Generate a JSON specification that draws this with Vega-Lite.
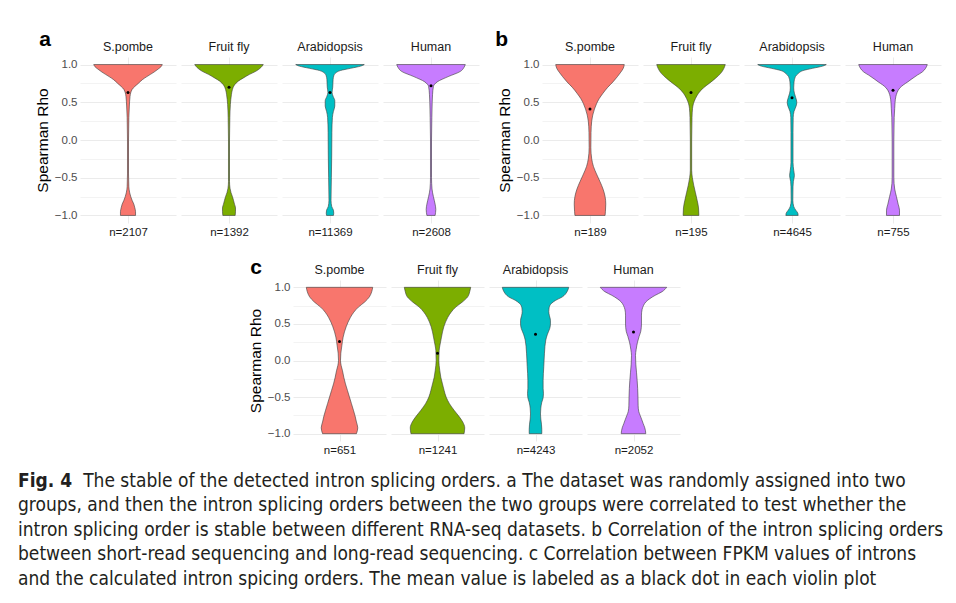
{
"$schema": "https://vega.github.io/schema/vega-lite/v6.json",
"background": "white",
"padding": {"left": 18, "top": 28, "right": 8, "bottom": 8},
"title": {"text": "Fig. 4", "subtitle": ["\u200b\u00a0\u00a0\u00a0\u00a0\u00a0\u00a0\u00a0\u00a0\u00a0\u00a0\u00a0\u00a0The stable of the detected intron splicing orders. a The dataset was randomly assigned into two", "groups, and then the intron splicing orders between the two groups were correlated to test whether the", "intron splicing order is stable between different RNA-seq datasets. b Correlation of the intron splicing orders", "between short-read sequencing and long-read sequencing. c Correlation between FPKM values of introns", "and the calculated intron spicing orders. The mean value is labeled as a black dot in each violin plot"], "orient": "bottom", "anchor": "start", "font": "Liberation Sans Narrow, DejaVu Sans Condensed, sans-serif", "fontSize": 19, "fontWeight": "bold", "color": "#231f20", "subtitleFont": "Liberation Sans Narrow, DejaVu Sans Condensed, sans-serif", "subtitleFontSize": 19, "subtitleFontWeight": "normal", "subtitleColor": "#231f20", "subtitleLineHeight": 24.5, "subtitlePadding": -19, "offset": 16},
"datasets": {
"violin": [
{"p":"a","s":"S.pombe","r":-1,"w":0.22},{"p":"a","s":"S.pombe","r":-0.95,"w":0.22},{"p":"a","s":"S.pombe","r":-0.9,"w":0.2},{"p":"a","s":"S.pombe","r":-0.85,"w":0.17},{"p":"a","s":"S.pombe","r":-0.8,"w":0.12},{"p":"a","s":"S.pombe","r":-0.75,"w":0.08},{"p":"a","s":"S.pombe","r":-0.7,"w":0.05},{"p":"a","s":"S.pombe","r":-0.62,"w":0.025},{"p":"a","s":"S.pombe","r":-0.45,"w":0.015},{"p":"a","s":"S.pombe","r":0,"w":0.015},{"p":"a","s":"S.pombe","r":0.3,"w":0.025},{"p":"a","s":"S.pombe","r":0.45,"w":0.04},{"p":"a","s":"S.pombe","r":0.58,"w":0.06},{"p":"a","s":"S.pombe","r":0.67,"w":0.12},{"p":"a","s":"S.pombe","r":0.75,"w":0.3},{"p":"a","s":"S.pombe","r":0.8,"w":0.42},{"p":"a","s":"S.pombe","r":0.84,"w":0.55},{"p":"a","s":"S.pombe","r":0.9,"w":0.76},{"p":"a","s":"S.pombe","r":0.94,"w":0.88},{"p":"a","s":"S.pombe","r":0.97,"w":0.96},{"p":"a","s":"S.pombe","r":1,"w":1},
{"p":"a","s":"Fruit fly","r":-1,"w":0.18},{"p":"a","s":"Fruit fly","r":-0.95,"w":0.19},{"p":"a","s":"Fruit fly","r":-0.9,"w":0.19},{"p":"a","s":"Fruit fly","r":-0.85,"w":0.16},{"p":"a","s":"Fruit fly","r":-0.75,"w":0.1},{"p":"a","s":"Fruit fly","r":-0.7,"w":0.06},{"p":"a","s":"Fruit fly","r":-0.64,"w":0.03},{"p":"a","s":"Fruit fly","r":-0.55,"w":0.015},{"p":"a","s":"Fruit fly","r":0,"w":0.015},{"p":"a","s":"Fruit fly","r":0.3,"w":0.025},{"p":"a","s":"Fruit fly","r":0.47,"w":0.04},{"p":"a","s":"Fruit fly","r":0.6,"w":0.07},{"p":"a","s":"Fruit fly","r":0.67,"w":0.1},{"p":"a","s":"Fruit fly","r":0.73,"w":0.16},{"p":"a","s":"Fruit fly","r":0.78,"w":0.27},{"p":"a","s":"Fruit fly","r":0.82,"w":0.41},{"p":"a","s":"Fruit fly","r":0.87,"w":0.6},{"p":"a","s":"Fruit fly","r":0.91,"w":0.78},{"p":"a","s":"Fruit fly","r":0.96,"w":0.93},{"p":"a","s":"Fruit fly","r":1,"w":1},
{"p":"a","s":"Arabidopsis","r":-1,"w":0.1},{"p":"a","s":"Arabidopsis","r":-0.97,"w":0.11},{"p":"a","s":"Arabidopsis","r":-0.93,"w":0.1},{"p":"a","s":"Arabidopsis","r":-0.88,"w":0.05},{"p":"a","s":"Arabidopsis","r":-0.8,"w":0.03},{"p":"a","s":"Arabidopsis","r":-0.5,"w":0.04},{"p":"a","s":"Arabidopsis","r":-0.2,"w":0.05},{"p":"a","s":"Arabidopsis","r":0.1,"w":0.055},{"p":"a","s":"Arabidopsis","r":0.3,"w":0.07},{"p":"a","s":"Arabidopsis","r":0.38,"w":0.1},{"p":"a","s":"Arabidopsis","r":0.45,"w":0.14},{"p":"a","s":"Arabidopsis","r":0.52,"w":0.14},{"p":"a","s":"Arabidopsis","r":0.58,"w":0.09},{"p":"a","s":"Arabidopsis","r":0.63,"w":0.06},{"p":"a","s":"Arabidopsis","r":0.7,"w":0.08},{"p":"a","s":"Arabidopsis","r":0.8,"w":0.09},{"p":"a","s":"Arabidopsis","r":0.85,"w":0.11},{"p":"a","s":"Arabidopsis","r":0.89,"w":0.17},{"p":"a","s":"Arabidopsis","r":0.92,"w":0.3},{"p":"a","s":"Arabidopsis","r":0.95,"w":0.6},{"p":"a","s":"Arabidopsis","r":0.98,"w":0.9},{"p":"a","s":"Arabidopsis","r":1,"w":1},
{"p":"a","s":"Human","r":-1,"w":0.12},{"p":"a","s":"Human","r":-0.92,"w":0.14},{"p":"a","s":"Human","r":-0.85,"w":0.12},{"p":"a","s":"Human","r":-0.75,"w":0.07},{"p":"a","s":"Human","r":-0.65,"w":0.03},{"p":"a","s":"Human","r":-0.5,"w":0.015},{"p":"a","s":"Human","r":0,"w":0.015},{"p":"a","s":"Human","r":0.3,"w":0.025},{"p":"a","s":"Human","r":0.5,"w":0.035},{"p":"a","s":"Human","r":0.6,"w":0.045},{"p":"a","s":"Human","r":0.71,"w":0.07},{"p":"a","s":"Human","r":0.77,"w":0.18},{"p":"a","s":"Human","r":0.84,"w":0.5},{"p":"a","s":"Human","r":0.91,"w":0.86},{"p":"a","s":"Human","r":0.96,"w":0.96},{"p":"a","s":"Human","r":1,"w":1},
{"p":"b","s":"S.pombe","r":-1,"w":0.44},{"p":"b","s":"S.pombe","r":-0.95,"w":0.45},{"p":"b","s":"S.pombe","r":-0.85,"w":0.46},{"p":"b","s":"S.pombe","r":-0.75,"w":0.44},{"p":"b","s":"S.pombe","r":-0.65,"w":0.38},{"p":"b","s":"S.pombe","r":-0.55,"w":0.29},{"p":"b","s":"S.pombe","r":-0.45,"w":0.19},{"p":"b","s":"S.pombe","r":-0.35,"w":0.1},{"p":"b","s":"S.pombe","r":-0.25,"w":0.05},{"p":"b","s":"S.pombe","r":-0.1,"w":0.025},{"p":"b","s":"S.pombe","r":0.1,"w":0.03},{"p":"b","s":"S.pombe","r":0.25,"w":0.05},{"p":"b","s":"S.pombe","r":0.33,"w":0.08},{"p":"b","s":"S.pombe","r":0.41,"w":0.13},{"p":"b","s":"S.pombe","r":0.48,"w":0.19},{"p":"b","s":"S.pombe","r":0.55,"w":0.27},{"p":"b","s":"S.pombe","r":0.62,"w":0.38},{"p":"b","s":"S.pombe","r":0.7,"w":0.52},{"p":"b","s":"S.pombe","r":0.77,"w":0.67},{"p":"b","s":"S.pombe","r":0.84,"w":0.8},{"p":"b","s":"S.pombe","r":0.9,"w":0.9},{"p":"b","s":"S.pombe","r":0.95,"w":0.97},{"p":"b","s":"S.pombe","r":1,"w":1},
{"p":"b","s":"Fruit fly","r":-1,"w":0.23},{"p":"b","s":"Fruit fly","r":-0.9,"w":0.22},{"p":"b","s":"Fruit fly","r":-0.8,"w":0.18},{"p":"b","s":"Fruit fly","r":-0.7,"w":0.13},{"p":"b","s":"Fruit fly","r":-0.6,"w":0.08},{"p":"b","s":"Fruit fly","r":-0.5,"w":0.04},{"p":"b","s":"Fruit fly","r":-0.4,"w":0.02},{"p":"b","s":"Fruit fly","r":0,"w":0.02},{"p":"b","s":"Fruit fly","r":0.3,"w":0.03},{"p":"b","s":"Fruit fly","r":0.42,"w":0.045},{"p":"b","s":"Fruit fly","r":0.48,"w":0.07},{"p":"b","s":"Fruit fly","r":0.55,"w":0.13},{"p":"b","s":"Fruit fly","r":0.62,"w":0.22},{"p":"b","s":"Fruit fly","r":0.69,"w":0.36},{"p":"b","s":"Fruit fly","r":0.75,"w":0.53},{"p":"b","s":"Fruit fly","r":0.82,"w":0.72},{"p":"b","s":"Fruit fly","r":0.88,"w":0.86},{"p":"b","s":"Fruit fly","r":0.95,"w":0.96},{"p":"b","s":"Fruit fly","r":1,"w":1},
{"p":"b","s":"Arabidopsis","r":-1,"w":0.18},{"p":"b","s":"Arabidopsis","r":-0.97,"w":0.17},{"p":"b","s":"Arabidopsis","r":-0.93,"w":0.11},{"p":"b","s":"Arabidopsis","r":-0.88,"w":0.05},{"p":"b","s":"Arabidopsis","r":-0.8,"w":0.025},{"p":"b","s":"Arabidopsis","r":-0.62,"w":0.03},{"p":"b","s":"Arabidopsis","r":-0.55,"w":0.04},{"p":"b","s":"Arabidopsis","r":-0.47,"w":0.07},{"p":"b","s":"Arabidopsis","r":-0.4,"w":0.05},{"p":"b","s":"Arabidopsis","r":-0.3,"w":0.03},{"p":"b","s":"Arabidopsis","r":0.1,"w":0.03},{"p":"b","s":"Arabidopsis","r":0.3,"w":0.035},{"p":"b","s":"Arabidopsis","r":0.38,"w":0.06},{"p":"b","s":"Arabidopsis","r":0.45,"w":0.12},{"p":"b","s":"Arabidopsis","r":0.5,"w":0.14},{"p":"b","s":"Arabidopsis","r":0.56,"w":0.11},{"p":"b","s":"Arabidopsis","r":0.62,"w":0.07},{"p":"b","s":"Arabidopsis","r":0.69,"w":0.05},{"p":"b","s":"Arabidopsis","r":0.77,"w":0.06},{"p":"b","s":"Arabidopsis","r":0.84,"w":0.1},{"p":"b","s":"Arabidopsis","r":0.88,"w":0.18},{"p":"b","s":"Arabidopsis","r":0.92,"w":0.32},{"p":"b","s":"Arabidopsis","r":0.95,"w":0.6},{"p":"b","s":"Arabidopsis","r":0.98,"w":0.9},{"p":"b","s":"Arabidopsis","r":1,"w":1},
{"p":"b","s":"Human","r":-1,"w":0.19},{"p":"b","s":"Human","r":-0.93,"w":0.19},{"p":"b","s":"Human","r":-0.85,"w":0.15},{"p":"b","s":"Human","r":-0.75,"w":0.1},{"p":"b","s":"Human","r":-0.65,"w":0.05},{"p":"b","s":"Human","r":-0.5,"w":0.025},{"p":"b","s":"Human","r":0,"w":0.025},{"p":"b","s":"Human","r":0.3,"w":0.035},{"p":"b","s":"Human","r":0.42,"w":0.05},{"p":"b","s":"Human","r":0.5,"w":0.06},{"p":"b","s":"Human","r":0.58,"w":0.085},{"p":"b","s":"Human","r":0.63,"w":0.12},{"p":"b","s":"Human","r":0.69,"w":0.2},{"p":"b","s":"Human","r":0.73,"w":0.3},{"p":"b","s":"Human","r":0.77,"w":0.43},{"p":"b","s":"Human","r":0.81,"w":0.55},{"p":"b","s":"Human","r":0.86,"w":0.71},{"p":"b","s":"Human","r":0.9,"w":0.85},{"p":"b","s":"Human","r":0.95,"w":0.95},{"p":"b","s":"Human","r":1,"w":1},
{"p":"c","s":"S.pombe","r":-1,"w":0.51},{"p":"c","s":"S.pombe","r":-0.92,"w":0.55},{"p":"c","s":"S.pombe","r":-0.84,"w":0.51},{"p":"c","s":"S.pombe","r":-0.76,"w":0.47},{"p":"c","s":"S.pombe","r":-0.68,"w":0.42},{"p":"c","s":"S.pombe","r":-0.59,"w":0.36},{"p":"c","s":"S.pombe","r":-0.5,"w":0.3},{"p":"c","s":"S.pombe","r":-0.41,"w":0.24},{"p":"c","s":"S.pombe","r":-0.32,"w":0.18},{"p":"c","s":"S.pombe","r":-0.23,"w":0.13},{"p":"c","s":"S.pombe","r":-0.14,"w":0.09},{"p":"c","s":"S.pombe","r":-0.07,"w":0.05},{"p":"c","s":"S.pombe","r":0,"w":0.03},{"p":"c","s":"S.pombe","r":0.1,"w":0.04},{"p":"c","s":"S.pombe","r":0.2,"w":0.07},{"p":"c","s":"S.pombe","r":0.32,"w":0.11},{"p":"c","s":"S.pombe","r":0.46,"w":0.2},{"p":"c","s":"S.pombe","r":0.59,"w":0.33},{"p":"c","s":"S.pombe","r":0.66,"w":0.43},{"p":"c","s":"S.pombe","r":0.73,"w":0.57},{"p":"c","s":"S.pombe","r":0.8,"w":0.76},{"p":"c","s":"S.pombe","r":0.87,"w":0.9},{"p":"c","s":"S.pombe","r":0.94,"w":0.97},{"p":"c","s":"S.pombe","r":1,"w":1},
{"p":"c","s":"Fruit fly","r":-1,"w":0.8},{"p":"c","s":"Fruit fly","r":-0.92,"w":0.82},{"p":"c","s":"Fruit fly","r":-0.84,"w":0.76},{"p":"c","s":"Fruit fly","r":-0.76,"w":0.64},{"p":"c","s":"Fruit fly","r":-0.68,"w":0.5},{"p":"c","s":"Fruit fly","r":-0.59,"w":0.36},{"p":"c","s":"Fruit fly","r":-0.5,"w":0.26},{"p":"c","s":"Fruit fly","r":-0.41,"w":0.2},{"p":"c","s":"Fruit fly","r":-0.32,"w":0.15},{"p":"c","s":"Fruit fly","r":-0.23,"w":0.1},{"p":"c","s":"Fruit fly","r":-0.14,"w":0.07},{"p":"c","s":"Fruit fly","r":0,"w":0.04},{"p":"c","s":"Fruit fly","r":0.14,"w":0.05},{"p":"c","s":"Fruit fly","r":0.2,"w":0.07},{"p":"c","s":"Fruit fly","r":0.32,"w":0.12},{"p":"c","s":"Fruit fly","r":0.46,"w":0.19},{"p":"c","s":"Fruit fly","r":0.59,"w":0.31},{"p":"c","s":"Fruit fly","r":0.66,"w":0.41},{"p":"c","s":"Fruit fly","r":0.73,"w":0.55},{"p":"c","s":"Fruit fly","r":0.8,"w":0.75},{"p":"c","s":"Fruit fly","r":0.87,"w":0.91},{"p":"c","s":"Fruit fly","r":0.94,"w":0.97},{"p":"c","s":"Fruit fly","r":1,"w":1},
{"p":"c","s":"Arabidopsis","r":-1,"w":0.19},{"p":"c","s":"Arabidopsis","r":-0.94,"w":0.19},{"p":"c","s":"Arabidopsis","r":-0.87,"w":0.18},{"p":"c","s":"Arabidopsis","r":-0.8,"w":0.16},{"p":"c","s":"Arabidopsis","r":-0.73,"w":0.15},{"p":"c","s":"Arabidopsis","r":-0.65,"w":0.16},{"p":"c","s":"Arabidopsis","r":-0.57,"w":0.19},{"p":"c","s":"Arabidopsis","r":-0.51,"w":0.23},{"p":"c","s":"Arabidopsis","r":-0.45,"w":0.24},{"p":"c","s":"Arabidopsis","r":-0.38,"w":0.23},{"p":"c","s":"Arabidopsis","r":-0.27,"w":0.23},{"p":"c","s":"Arabidopsis","r":-0.08,"w":0.25},{"p":"c","s":"Arabidopsis","r":0.1,"w":0.27},{"p":"c","s":"Arabidopsis","r":0.28,"w":0.31},{"p":"c","s":"Arabidopsis","r":0.36,"w":0.36},{"p":"c","s":"Arabidopsis","r":0.44,"w":0.43},{"p":"c","s":"Arabidopsis","r":0.5,"w":0.45},{"p":"c","s":"Arabidopsis","r":0.55,"w":0.45},{"p":"c","s":"Arabidopsis","r":0.61,"w":0.42},{"p":"c","s":"Arabidopsis","r":0.67,"w":0.4},{"p":"c","s":"Arabidopsis","r":0.72,"w":0.41},{"p":"c","s":"Arabidopsis","r":0.78,"w":0.48},{"p":"c","s":"Arabidopsis","r":0.82,"w":0.6},{"p":"c","s":"Arabidopsis","r":0.87,"w":0.81},{"p":"c","s":"Arabidopsis","r":0.94,"w":0.95},{"p":"c","s":"Arabidopsis","r":1,"w":1},
{"p":"c","s":"Human","r":-1,"w":0.37},{"p":"c","s":"Human","r":-0.96,"w":0.36},{"p":"c","s":"Human","r":-0.92,"w":0.34},{"p":"c","s":"Human","r":-0.86,"w":0.29},{"p":"c","s":"Human","r":-0.81,"w":0.25},{"p":"c","s":"Human","r":-0.75,"w":0.2},{"p":"c","s":"Human","r":-0.7,"w":0.16},{"p":"c","s":"Human","r":-0.62,"w":0.14},{"p":"c","s":"Human","r":-0.5,"w":0.135},{"p":"c","s":"Human","r":-0.38,"w":0.125},{"p":"c","s":"Human","r":-0.27,"w":0.11},{"p":"c","s":"Human","r":-0.16,"w":0.09},{"p":"c","s":"Human","r":-0.05,"w":0.07},{"p":"c","s":"Human","r":0.07,"w":0.06},{"p":"c","s":"Human","r":0.15,"w":0.08},{"p":"c","s":"Human","r":0.25,"w":0.12},{"p":"c","s":"Human","r":0.33,"w":0.17},{"p":"c","s":"Human","r":0.4,"w":0.22},{"p":"c","s":"Human","r":0.5,"w":0.24},{"p":"c","s":"Human","r":0.62,"w":0.24},{"p":"c","s":"Human","r":0.7,"w":0.26},{"p":"c","s":"Human","r":0.75,"w":0.3},{"p":"c","s":"Human","r":0.8,"w":0.37},{"p":"c","s":"Human","r":0.845,"w":0.49},{"p":"c","s":"Human","r":0.89,"w":0.65},{"p":"c","s":"Human","r":0.94,"w":0.86},{"p":"c","s":"Human","r":1,"w":1}
],
"means": [
{"p":"a","s":"S.pombe","r":0.63},{"p":"a","s":"Fruit fly","r":0.70},{"p":"a","s":"Arabidopsis","r":0.63},{"p":"a","s":"Human","r":0.72},
{"p":"b","s":"S.pombe","r":0.41},{"p":"b","s":"Fruit fly","r":0.63},{"p":"b","s":"Arabidopsis","r":0.56},{"p":"b","s":"Human","r":0.66},
{"p":"c","s":"S.pombe","r":0.26},{"p":"c","s":"Fruit fly","r":0.10},{"p":"c","s":"Arabidopsis","r":0.36},{"p":"c","s":"Human","r":0.39}
]
},
"spacing": 18,
"vconcat": [
{"hconcat": [
{"width": 1, "height": 10, "data": {"values": []}, "mark": "point"},
{"title": {"text": "a", "anchor": "start", "fontSize": 21, "fontWeight": "bold", "color": "#000000", "offset": -9, "dx": 4},
 "spacing": 5,
 "hconcat": [
{"title": "S.pombe", "width": 96, "height": 166,
 "encoding": {"y": {"field": "r", "type": "quantitative", "scale": {"domain": [-1.1, 1.1], "nice": false}, "axis": {"values": [-1,-0.75,-0.5,-0.25,0,0.25,0.5,0.75,1], "labelExpr": "datum.value % 0.5 === 0 ? format(datum.value, '.1f') : ''", "title": "Spearman Rho", "gridWidth": {"condition": {"test": "datum.value % 0.5 === 0", "value": 1}, "value": 0.6}}}},
 "layer": [
  {"data": {"name": "violin"}, "transform": [{"filter": "datum.p=='a' && datum.s=='S.pombe'"}], "mark": {"type": "area", "orient": "horizontal"},
   "encoding": {"x": {"field": "w", "type": "quantitative", "stack": "center", "impute": null, "scale": {"domain": [-0.1667, 1.1667]}, "axis": {"values": [0.5], "title": "n=2107"}},
                "color": {"field": "s", "type": "nominal", "scale": {"domain": ["S.pombe","Fruit fly","Arabidopsis","Human"], "range": ["#F8766D","#7CAE00","#00BFC4","#C77CFF"]}, "legend": null}}},
  {"data": {"name": "means"}, "transform": [{"filter": "datum.p=='a' && datum.s=='S.pombe'"}], "mark": "point", "encoding": {"x": {"datum": 0.5}}}
 ]},
{"title": "Fruit fly", "width": 96, "height": 166,
 "encoding": {"y": {"field": "r", "type": "quantitative", "scale": {"domain": [-1.1, 1.1], "nice": false}, "axis": {"values": [-1,-0.75,-0.5,-0.25,0,0.25,0.5,0.75,1], "labels": false, "title": null, "gridWidth": {"condition": {"test": "datum.value % 0.5 === 0", "value": 1}, "value": 0.6}}}},
 "layer": [
  {"data": {"name": "violin"}, "transform": [{"filter": "datum.p=='a' && datum.s=='Fruit fly'"}], "mark": {"type": "area", "orient": "horizontal"},
   "encoding": {"x": {"field": "w", "type": "quantitative", "stack": "center", "impute": null, "scale": {"domain": [-0.1667, 1.1667]}, "axis": {"values": [0.5], "title": "n=1392"}},
                "color": {"field": "s", "type": "nominal", "scale": {"domain": ["S.pombe","Fruit fly","Arabidopsis","Human"], "range": ["#F8766D","#7CAE00","#00BFC4","#C77CFF"]}, "legend": null}}},
  {"data": {"name": "means"}, "transform": [{"filter": "datum.p=='a' && datum.s=='Fruit fly'"}], "mark": "point", "encoding": {"x": {"datum": 0.5}}}
 ]},
{"title": "Arabidopsis", "width": 96, "height": 166,
 "encoding": {"y": {"field": "r", "type": "quantitative", "scale": {"domain": [-1.1, 1.1], "nice": false}, "axis": {"values": [-1,-0.75,-0.5,-0.25,0,0.25,0.5,0.75,1], "labels": false, "title": null, "gridWidth": {"condition": {"test": "datum.value % 0.5 === 0", "value": 1}, "value": 0.6}}}},
 "layer": [
  {"data": {"name": "violin"}, "transform": [{"filter": "datum.p=='a' && datum.s=='Arabidopsis'"}], "mark": {"type": "area", "orient": "horizontal"},
   "encoding": {"x": {"field": "w", "type": "quantitative", "stack": "center", "impute": null, "scale": {"domain": [-0.1667, 1.1667]}, "axis": {"values": [0.5], "title": "n=11369"}},
                "color": {"field": "s", "type": "nominal", "scale": {"domain": ["S.pombe","Fruit fly","Arabidopsis","Human"], "range": ["#F8766D","#7CAE00","#00BFC4","#C77CFF"]}, "legend": null}}},
  {"data": {"name": "means"}, "transform": [{"filter": "datum.p=='a' && datum.s=='Arabidopsis'"}], "mark": "point", "encoding": {"x": {"datum": 0.5}}}
 ]},
{"title": "Human", "width": 96, "height": 166,
 "encoding": {"y": {"field": "r", "type": "quantitative", "scale": {"domain": [-1.1, 1.1], "nice": false}, "axis": {"values": [-1,-0.75,-0.5,-0.25,0,0.25,0.5,0.75,1], "labels": false, "title": null, "gridWidth": {"condition": {"test": "datum.value % 0.5 === 0", "value": 1}, "value": 0.6}}}},
 "layer": [
  {"data": {"name": "violin"}, "transform": [{"filter": "datum.p=='a' && datum.s=='Human'"}], "mark": {"type": "area", "orient": "horizontal"},
   "encoding": {"x": {"field": "w", "type": "quantitative", "stack": "center", "impute": null, "scale": {"domain": [-0.1667, 1.1667]}, "axis": {"values": [0.5], "title": "n=2608"}},
                "color": {"field": "s", "type": "nominal", "scale": {"domain": ["S.pombe","Fruit fly","Arabidopsis","Human"], "range": ["#F8766D","#7CAE00","#00BFC4","#C77CFF"]}, "legend": null}}},
  {"data": {"name": "means"}, "transform": [{"filter": "datum.p=='a' && datum.s=='Human'"}], "mark": "point", "encoding": {"x": {"datum": 0.5}}}
 ]}
]},
{"title": {"text": "b", "anchor": "start", "fontSize": 21, "fontWeight": "bold", "color": "#000000", "offset": -9, "dx": -2},
 "spacing": 5,
 "hconcat": [
{"title": "S.pombe", "width": 96, "height": 166,
 "encoding": {"y": {"field": "r", "type": "quantitative", "scale": {"domain": [-1.1, 1.1], "nice": false}, "axis": {"values": [-1,-0.75,-0.5,-0.25,0,0.25,0.5,0.75,1], "labelExpr": "datum.value % 0.5 === 0 ? format(datum.value, '.1f') : ''", "title": "Spearman Rho", "gridWidth": {"condition": {"test": "datum.value % 0.5 === 0", "value": 1}, "value": 0.6}}}},
 "layer": [
  {"data": {"name": "violin"}, "transform": [{"filter": "datum.p=='b' && datum.s=='S.pombe'"}], "mark": {"type": "area", "orient": "horizontal"},
   "encoding": {"x": {"field": "w", "type": "quantitative", "stack": "center", "impute": null, "scale": {"domain": [-0.1667, 1.1667]}, "axis": {"values": [0.5], "title": "n=189"}},
                "color": {"field": "s", "type": "nominal", "scale": {"domain": ["S.pombe","Fruit fly","Arabidopsis","Human"], "range": ["#F8766D","#7CAE00","#00BFC4","#C77CFF"]}, "legend": null}}},
  {"data": {"name": "means"}, "transform": [{"filter": "datum.p=='b' && datum.s=='S.pombe'"}], "mark": "point", "encoding": {"x": {"datum": 0.5}}}
 ]},
{"title": "Fruit fly", "width": 96, "height": 166,
 "encoding": {"y": {"field": "r", "type": "quantitative", "scale": {"domain": [-1.1, 1.1], "nice": false}, "axis": {"values": [-1,-0.75,-0.5,-0.25,0,0.25,0.5,0.75,1], "labels": false, "title": null, "gridWidth": {"condition": {"test": "datum.value % 0.5 === 0", "value": 1}, "value": 0.6}}}},
 "layer": [
  {"data": {"name": "violin"}, "transform": [{"filter": "datum.p=='b' && datum.s=='Fruit fly'"}], "mark": {"type": "area", "orient": "horizontal"},
   "encoding": {"x": {"field": "w", "type": "quantitative", "stack": "center", "impute": null, "scale": {"domain": [-0.1667, 1.1667]}, "axis": {"values": [0.5], "title": "n=195"}},
                "color": {"field": "s", "type": "nominal", "scale": {"domain": ["S.pombe","Fruit fly","Arabidopsis","Human"], "range": ["#F8766D","#7CAE00","#00BFC4","#C77CFF"]}, "legend": null}}},
  {"data": {"name": "means"}, "transform": [{"filter": "datum.p=='b' && datum.s=='Fruit fly'"}], "mark": "point", "encoding": {"x": {"datum": 0.5}}}
 ]},
{"title": "Arabidopsis", "width": 96, "height": 166,
 "encoding": {"y": {"field": "r", "type": "quantitative", "scale": {"domain": [-1.1, 1.1], "nice": false}, "axis": {"values": [-1,-0.75,-0.5,-0.25,0,0.25,0.5,0.75,1], "labels": false, "title": null, "gridWidth": {"condition": {"test": "datum.value % 0.5 === 0", "value": 1}, "value": 0.6}}}},
 "layer": [
  {"data": {"name": "violin"}, "transform": [{"filter": "datum.p=='b' && datum.s=='Arabidopsis'"}], "mark": {"type": "area", "orient": "horizontal"},
   "encoding": {"x": {"field": "w", "type": "quantitative", "stack": "center", "impute": null, "scale": {"domain": [-0.1667, 1.1667]}, "axis": {"values": [0.5], "title": "n=4645"}},
                "color": {"field": "s", "type": "nominal", "scale": {"domain": ["S.pombe","Fruit fly","Arabidopsis","Human"], "range": ["#F8766D","#7CAE00","#00BFC4","#C77CFF"]}, "legend": null}}},
  {"data": {"name": "means"}, "transform": [{"filter": "datum.p=='b' && datum.s=='Arabidopsis'"}], "mark": "point", "encoding": {"x": {"datum": 0.5}}}
 ]},
{"title": "Human", "width": 96, "height": 166,
 "encoding": {"y": {"field": "r", "type": "quantitative", "scale": {"domain": [-1.1, 1.1], "nice": false}, "axis": {"values": [-1,-0.75,-0.5,-0.25,0,0.25,0.5,0.75,1], "labels": false, "title": null, "gridWidth": {"condition": {"test": "datum.value % 0.5 === 0", "value": 1}, "value": 0.6}}}},
 "layer": [
  {"data": {"name": "violin"}, "transform": [{"filter": "datum.p=='b' && datum.s=='Human'"}], "mark": {"type": "area", "orient": "horizontal"},
   "encoding": {"x": {"field": "w", "type": "quantitative", "stack": "center", "impute": null, "scale": {"domain": [-0.1667, 1.1667]}, "axis": {"values": [0.5], "title": "n=755"}},
                "color": {"field": "s", "type": "nominal", "scale": {"domain": ["S.pombe","Fruit fly","Arabidopsis","Human"], "range": ["#F8766D","#7CAE00","#00BFC4","#C77CFF"]}, "legend": null}}},
  {"data": {"name": "means"}, "transform": [{"filter": "datum.p=='b' && datum.s=='Human'"}], "mark": "point", "encoding": {"x": {"datum": 0.5}}}
 ]}
]}
], "spacing": 16},
{"hconcat": [
{"width": 230, "height": 10, "data": {"values": []}, "mark": "point"},
{"title": {"text": "c", "anchor": "start", "fontSize": 21, "fontWeight": "bold", "color": "#000000", "offset": -14, "dx": 2},
 "spacing": 5,
 "hconcat": [
{"title": "S.pombe", "width": 93, "height": 161,
 "encoding": {"y": {"field": "r", "type": "quantitative", "scale": {"domain": [-1.1, 1.1], "nice": false}, "axis": {"values": [-1,-0.75,-0.5,-0.25,0,0.25,0.5,0.75,1], "labelExpr": "datum.value % 0.5 === 0 ? format(datum.value, '.1f') : ''", "title": "Spearman Rho", "gridWidth": {"condition": {"test": "datum.value % 0.5 === 0", "value": 1}, "value": 0.6}}}},
 "layer": [
  {"data": {"name": "violin"}, "transform": [{"filter": "datum.p=='c' && datum.s=='S.pombe'"}], "mark": {"type": "area", "orient": "horizontal"},
   "encoding": {"x": {"field": "w", "type": "quantitative", "stack": "center", "impute": null, "scale": {"domain": [-0.1667, 1.1667]}, "axis": {"values": [0.5], "title": "n=651"}},
                "color": {"field": "s", "type": "nominal", "scale": {"domain": ["S.pombe","Fruit fly","Arabidopsis","Human"], "range": ["#F8766D","#7CAE00","#00BFC4","#C77CFF"]}, "legend": null}}},
  {"data": {"name": "means"}, "transform": [{"filter": "datum.p=='c' && datum.s=='S.pombe'"}], "mark": "point", "encoding": {"x": {"datum": 0.5}}}
 ]},
{"title": "Fruit fly", "width": 93, "height": 161,
 "encoding": {"y": {"field": "r", "type": "quantitative", "scale": {"domain": [-1.1, 1.1], "nice": false}, "axis": {"values": [-1,-0.75,-0.5,-0.25,0,0.25,0.5,0.75,1], "labels": false, "title": null, "gridWidth": {"condition": {"test": "datum.value % 0.5 === 0", "value": 1}, "value": 0.6}}}},
 "layer": [
  {"data": {"name": "violin"}, "transform": [{"filter": "datum.p=='c' && datum.s=='Fruit fly'"}], "mark": {"type": "area", "orient": "horizontal"},
   "encoding": {"x": {"field": "w", "type": "quantitative", "stack": "center", "impute": null, "scale": {"domain": [-0.1667, 1.1667]}, "axis": {"values": [0.5], "title": "n=1241"}},
                "color": {"field": "s", "type": "nominal", "scale": {"domain": ["S.pombe","Fruit fly","Arabidopsis","Human"], "range": ["#F8766D","#7CAE00","#00BFC4","#C77CFF"]}, "legend": null}}},
  {"data": {"name": "means"}, "transform": [{"filter": "datum.p=='c' && datum.s=='Fruit fly'"}], "mark": "point", "encoding": {"x": {"datum": 0.5}}}
 ]},
{"title": "Arabidopsis", "width": 93, "height": 161,
 "encoding": {"y": {"field": "r", "type": "quantitative", "scale": {"domain": [-1.1, 1.1], "nice": false}, "axis": {"values": [-1,-0.75,-0.5,-0.25,0,0.25,0.5,0.75,1], "labels": false, "title": null, "gridWidth": {"condition": {"test": "datum.value % 0.5 === 0", "value": 1}, "value": 0.6}}}},
 "layer": [
  {"data": {"name": "violin"}, "transform": [{"filter": "datum.p=='c' && datum.s=='Arabidopsis'"}], "mark": {"type": "area", "orient": "horizontal"},
   "encoding": {"x": {"field": "w", "type": "quantitative", "stack": "center", "impute": null, "scale": {"domain": [-0.1667, 1.1667]}, "axis": {"values": [0.5], "title": "n=4243"}},
                "color": {"field": "s", "type": "nominal", "scale": {"domain": ["S.pombe","Fruit fly","Arabidopsis","Human"], "range": ["#F8766D","#7CAE00","#00BFC4","#C77CFF"]}, "legend": null}}},
  {"data": {"name": "means"}, "transform": [{"filter": "datum.p=='c' && datum.s=='Arabidopsis'"}], "mark": "point", "encoding": {"x": {"datum": 0.5}}}
 ]},
{"title": "Human", "width": 93, "height": 161,
 "encoding": {"y": {"field": "r", "type": "quantitative", "scale": {"domain": [-1.1, 1.1], "nice": false}, "axis": {"values": [-1,-0.75,-0.5,-0.25,0,0.25,0.5,0.75,1], "labels": false, "title": null, "gridWidth": {"condition": {"test": "datum.value % 0.5 === 0", "value": 1}, "value": 0.6}}}},
 "layer": [
  {"data": {"name": "violin"}, "transform": [{"filter": "datum.p=='c' && datum.s=='Human'"}], "mark": {"type": "area", "orient": "horizontal"},
   "encoding": {"x": {"field": "w", "type": "quantitative", "stack": "center", "impute": null, "scale": {"domain": [-0.1667, 1.1667]}, "axis": {"values": [0.5], "title": "n=2052"}},
                "color": {"field": "s", "type": "nominal", "scale": {"domain": ["S.pombe","Fruit fly","Arabidopsis","Human"], "range": ["#F8766D","#7CAE00","#00BFC4","#C77CFF"]}, "legend": null}}},
  {"data": {"name": "means"}, "transform": [{"filter": "datum.p=='c' && datum.s=='Human'"}], "mark": "point", "encoding": {"x": {"datum": 0.5}}}
 ]}
]}
], "spacing": 0}
],
"config": {
 "font": "Liberation Sans",
 "view": {"stroke": null},
 "area": {"interpolate": "monotone", "stroke": "#3a3a3a", "strokeWidth": 0.6, "opacity": 1},
 "point": {"filled": true, "color": "#000000", "size": 9, "opacity": 1},
 "axisY": {"grid": true, "gridColor": "#ebebeb", "domain": false, "ticks": false, "labelColor": "#4d4d4d", "labelFontSize": 11.5, "labelPadding": 3, "labelOverlap": false, "titleFontSize": 15.5, "titleFontWeight": "normal", "titleColor": "#000000", "titlePadding": 4},
 "axisX": {"grid": true, "gridColor": "#ebebeb", "domain": false, "ticks": false, "labels": false, "titleFontSize": 11.5, "titleFontWeight": "normal", "titleColor": "#1a1a1a", "titlePadding": 3},
 "title": {"fontSize": 12.5, "fontWeight": "normal", "color": "#1a1a1a", "offset": 4}
}
}
